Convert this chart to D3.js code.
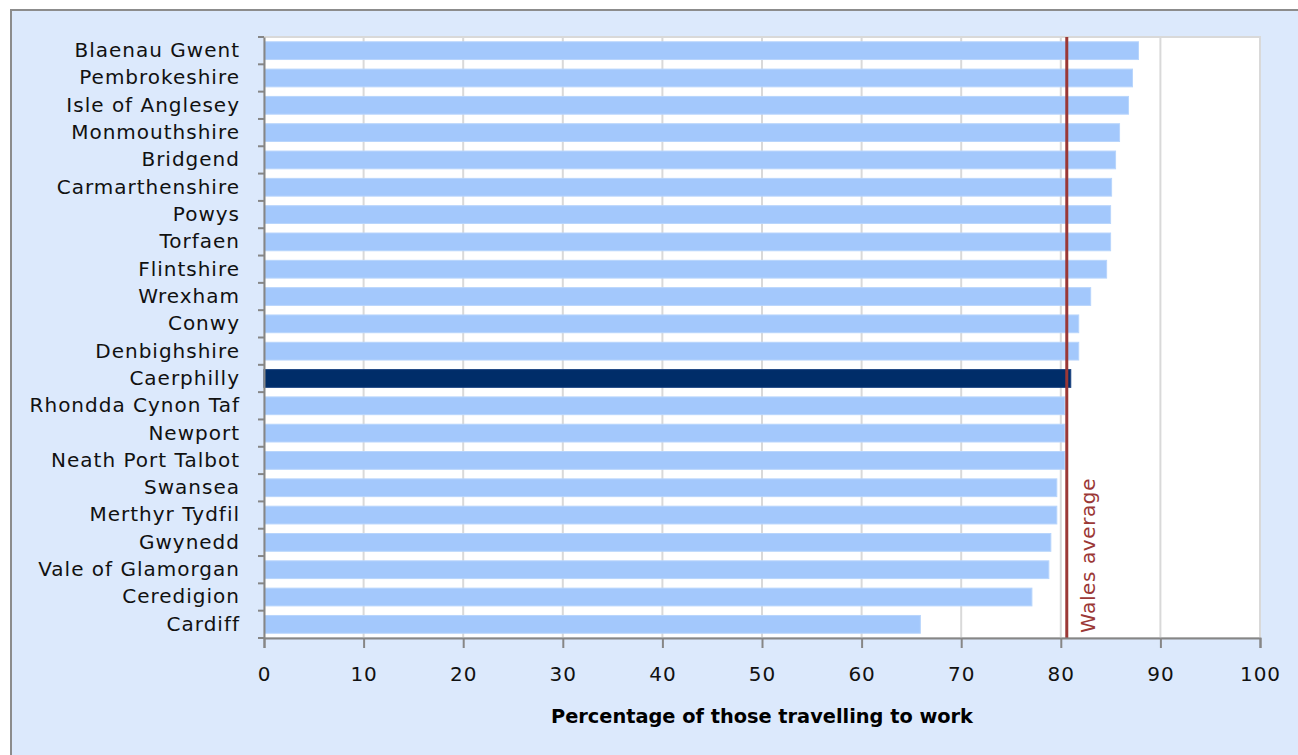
<!DOCTYPE html>
<html>
<head>
<meta charset="utf-8">
<script src="https://cdn.jsdelivr.net/npm/d3@7"></script>
<style>
  body { margin: 0; background: #fff; }
  text { font-family: "DejaVu Sans", sans-serif; }
</style>
</head>
<body>
<div id="container"></div>
<script>
/* CONSTANTS AND GLOBALS */
const width = 1298;
const height = 755;
const margin = { top: 37, bottom: 117, left: 264, right: 38 };

/* DATA */
const areas = [
  "Blaenau Gwent", "Pembrokeshire", "Isle of Anglesey", "Monmouthshire", "Bridgend",
  "Carmarthenshire", "Powys", "Torfaen", "Flintshire", "Wrexham", "Conwy",
  "Denbighshire", "Caerphilly", "Rhondda Cynon Taf", "Newport", "Neath Port Talbot",
  "Swansea", "Merthyr Tydfil", "Gwynedd", "Vale of Glamorgan", "Ceredigion", "Cardiff"
];
const shares = [
  87.8, 87.2, 86.8, 85.9, 85.5,
  85.1, 85.0, 85.0, 84.6, 83.0, 81.8,
  81.8, 81.0, 80.4, 80.4, 80.4,
  79.6, 79.6, 79.0, 78.8, 77.1, 65.9
];
const highlight = "Caerphilly";
const walesAverage = 80.6;
const xTicks = [0, 10, 20, 30, 40, 50, 60, 70, 80, 90, 100];
const xTitle = "Percentage of those travelling to work";
const avgLabel = "Wales average";

const data = areas.map((a, i) => ({ area: a, value: shares[i] }));

/* SVG */
const svg = d3.select('#container')
  .append('svg')
  .attr('width', width)
  .attr('height', height);

// outer chart frame
svg.append('rect')
  .attr('x', 11).attr('y', 10)
  .attr('width', width).attr('height', height)
  .attr('fill', '#dce9fc')
  .attr('stroke', '#8c8c8c')
  .attr('stroke-width', 2);

/* SCALES */
const xScale = d3.scaleLinear()
  .domain([0, 100])
  .range([margin.left, width - margin.right]);

const yScale = d3.scaleBand()
  .domain(areas)
  .range([margin.top, height - margin.bottom])
  .paddingInner(0.35)
  .paddingOuter(0.175);

const plotTop = margin.top, plotBottom = height - margin.bottom;

// plot area
svg.append('rect')
  .attr('x', xScale(0)).attr('y', plotTop)
  .attr('width', xScale(100) - xScale(0))
  .attr('height', plotBottom - plotTop)
  .attr('fill', '#fff')
  .attr('stroke', '#d9d9d9')
  .attr('stroke-width', 2);

// gridlines
svg.append('g')
  .selectAll('line')
  .data(xTicks.slice(1))
  .join('line')
  .attr('x1', d => xScale(d)).attr('x2', d => xScale(d))
  .attr('y1', plotTop).attr('y2', plotBottom)
  .attr('stroke', '#d9d9d9')
  .attr('stroke-width', 2);

// bars
svg.append('g')
  .selectAll('rect')
  .data(data)
  .join('rect')
  .attr('x', xScale(0))
  .attr('y', d => yScale(d.area))
  .attr('width', d => xScale(d.value) - xScale(0))
  .attr('height', yScale.bandwidth())
  .attr('fill', d => d.area === highlight ? '#002d69' : '#a3c8fc')
  .attr('stroke', d => d.area === highlight ? '#1a4380' : '#b8d5fc')
  .attr('stroke-width', 1);

// average line
svg.append('line')
  .attr('x1', xScale(walesAverage)).attr('x2', xScale(walesAverage))
  .attr('y1', plotTop).attr('y2', plotBottom)
  .attr('stroke', '#9b3836')
  .attr('stroke-width', 3);

svg.append('text')
  .attr('transform', `translate(${xScale(walesAverage) + 28},${plotBottom - 5}) rotate(-90)`)
  .attr('fill', '#9b3836')
  .attr('font-size', 20)
  .attr('letter-spacing', 0.6)
  .text(avgLabel);

// x axis
const xAxis = svg.append('g')
  .attr('transform', `translate(0,${plotBottom})`)
  .call(d3.axisBottom(xScale).tickValues(xTicks).tickSize(10).tickPadding(19));
xAxis.select('.domain').attr('stroke', '#868686').attr('stroke-width', 2);
xAxis.selectAll('.tick line').attr('stroke', '#868686').attr('stroke-width', 2);
xAxis.selectAll('.tick text')
  .attr('font-family', '"DejaVu Sans", sans-serif')
  .attr('font-size', 20)
  .attr('letter-spacing', 1)
  .attr('fill', '#111');

// y axis
const yAxis = svg.append('g')
  .attr('transform', `translate(${xScale(0)},0)`)
  .call(d3.axisLeft(yScale).tickSize(0).tickPadding(24));
yAxis.select('.domain').attr('stroke', '#868686').attr('stroke-width', 2);
yAxis.selectAll('.tick text')
  .attr('font-family', '"DejaVu Sans", sans-serif')
  .attr('font-size', 20)
  .attr('letter-spacing', 1)
  .attr('fill', '#111');

// category boundary ticks
const step = yScale.step();
yAxis.append('g')
  .selectAll('line')
  .data(d3.range(areas.length + 1))
  .join('line')
  .attr('x1', -6).attr('x2', 0)
  .attr('y1', i => plotTop + i * step).attr('y2', i => plotTop + i * step)
  .attr('stroke', '#868686')
  .attr('stroke-width', 2);

// axis title
svg.append('text')
  .attr('x', (xScale(0) + xScale(100)) / 2)
  .attr('y', 723)
  .attr('text-anchor', 'middle')
  .attr('font-weight', 'bold')
  .attr('font-size', 19)
  .attr('textLength', 422)
  .attr('lengthAdjust', 'spacingAndGlyphs')
  .attr('fill', '#000')
  .text(xTitle);
</script>
</body>
</html>
